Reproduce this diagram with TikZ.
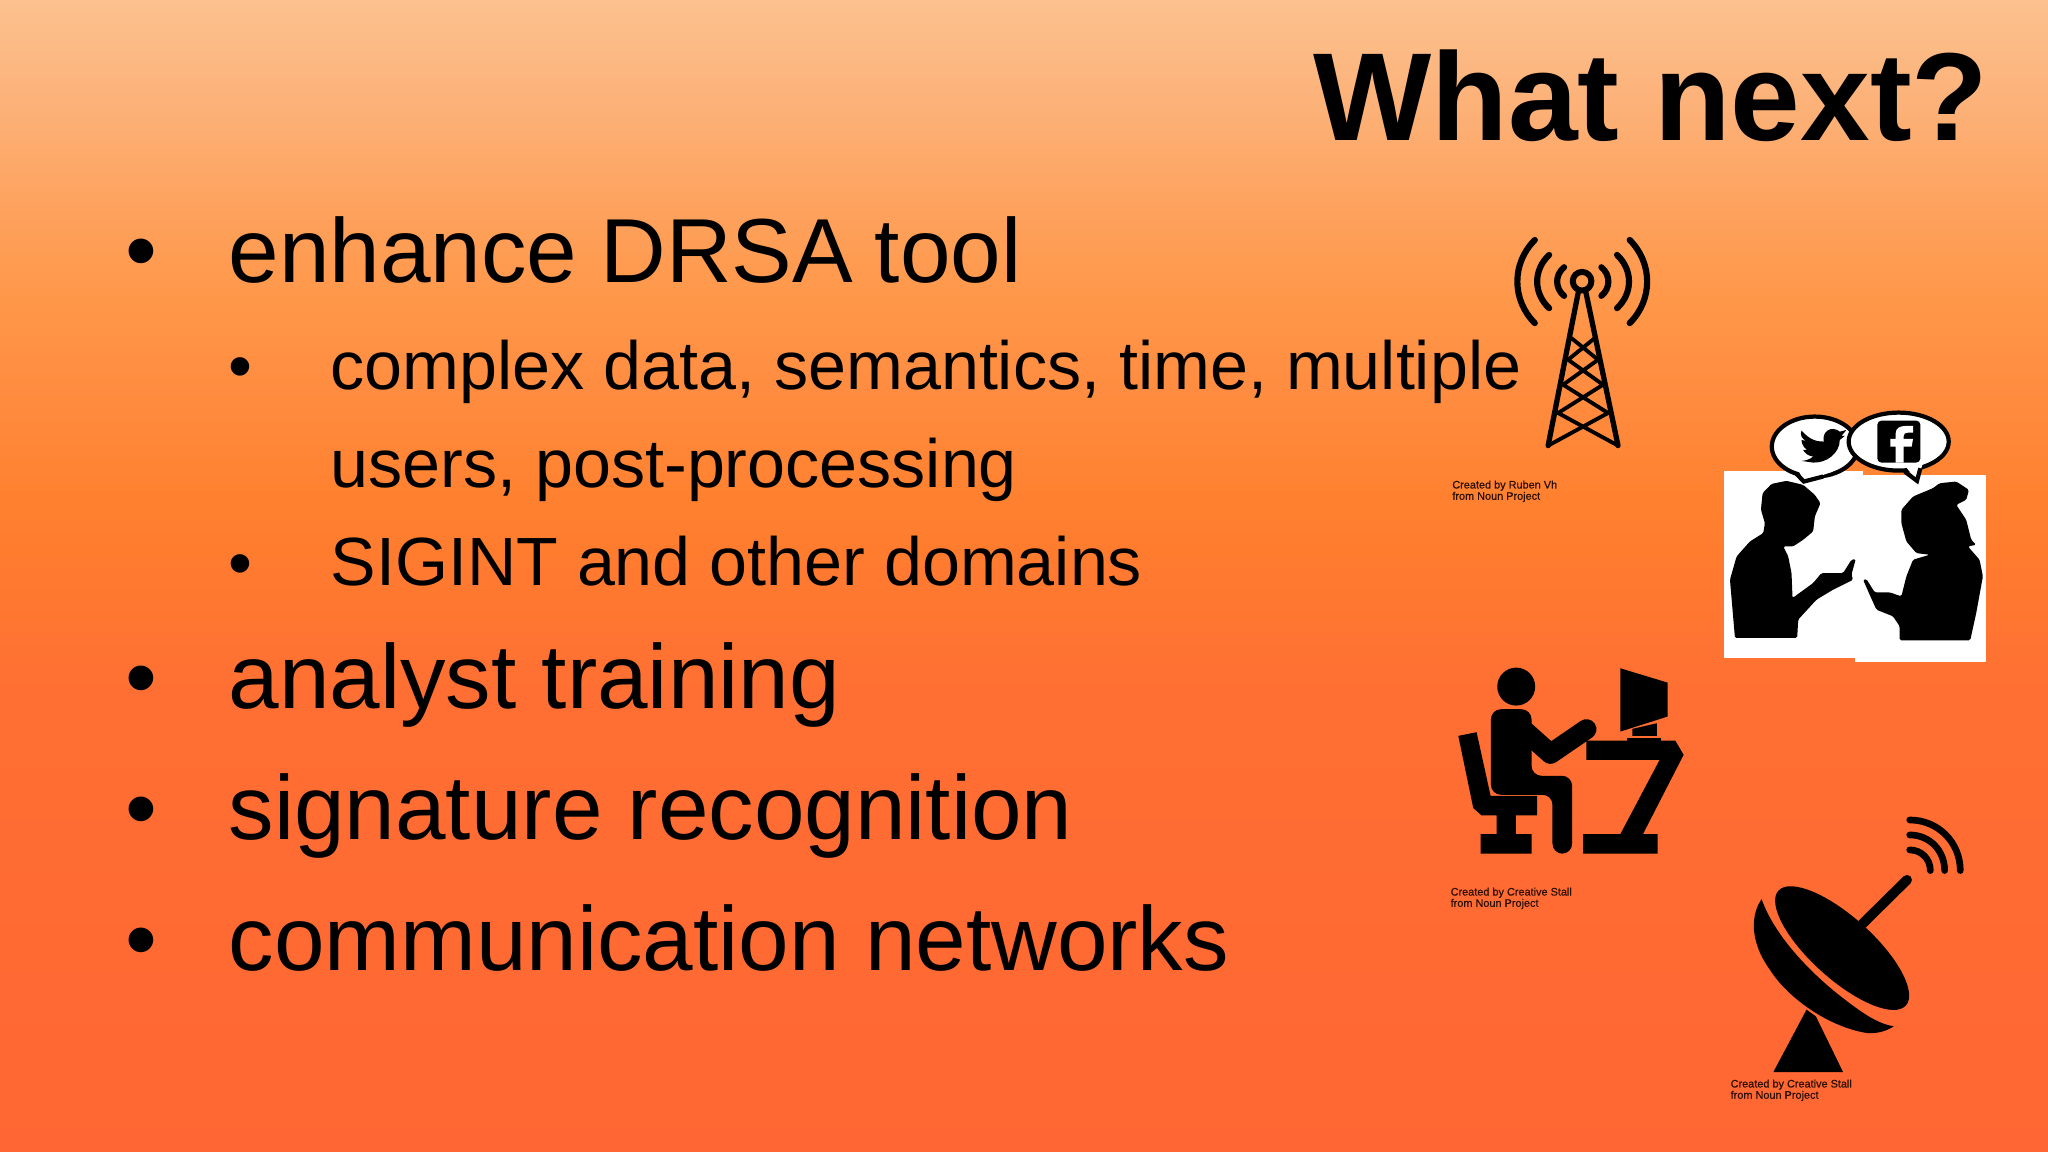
\documentclass[tikz,border=0pt]{standalone}
\usepackage{fontspec}
\setmainfont{Liberation Sans}
\newfontfamily\creditfont[FakeBold=0.5]{Liberation Sans}
\definecolor{bgtop}{RGB}{252,193,143}
\definecolor{bgpale}{RGB}{252,178,121}
\definecolor{bgupper}{RGB}{254,162,94}
\definecolor{bgwarm}{RGB}{255,151,73}
\definecolor{bgsoft}{RGB}{255,140,64}
\definecolor{bgmid}{RGB}{255,128,46}
\definecolor{bglow}{RGB}{255,111,51}
\definecolor{bgend}{RGB}{255,102,51}
\definecolor{creditink}{RGB}{45,15,5}
\pgfdeclareverticalshading{slidebg}{100bp}{color(0bp)=(bgend); color(25bp)=(bgend); color(45bp)=(bglow); color(53bp)=(bgmid); color(58bp)=(bgsoft); color(62bp)=(bgwarm); color(66bp)=(bgupper); color(70.6bp)=(bgpale); color(75bp)=(bgtop); color(100bp)=(bgtop)}
\tikzset{
    titletext/.style={anchor=base west,inner sep=0pt,font=\fontsize{35.6}{40}\selectfont\bfseries},
    mainitem/.style={anchor=base west,inner sep=0pt,font=\fontsize{25.85}{30}\selectfont},
    subitem/.style={anchor=base west,inner sep=0pt,font=\fontsize{19.4}{23}\selectfont},
    credit/.style={anchor=north west,inner sep=0pt,align=left,text=creditink,font=\fontsize{3.1}{3.2}\creditfont},
    icon/.style={x=0.003333cm,y=-0.003333cm},
    bar/.style={line width=1.5pt,line cap=round,line join=round},
    wave/.style={line width=1.75pt,line cap=round}
}
\begin{document}
\begin{tikzpicture}[x=0.01cm,y=-0.01cm]
    \useasboundingbox (0,0) rectangle (2048,1152);
    % Hintergrund
    \path[shading=slidebg,shading angle=0] (0,0) rectangle (2048,1152);

    % Titel
    \node[titletext] (title) at (1313,141) {What next?};

    % Liste
    \node[mainitem] (b1) at (125,282) {•};
    \node[mainitem] (drsa) at (228,283) {enhance\kern-0.6pt\ DRSA\kern-1pt\ tool};
    \node[subitem] (b2) at (228,390) {•};
    \node[subitem] (complex) at (330,390) {complex data, semantics, time, multiple};
    \node[subitem] (users) at (330,488) {users, post-processing};
    \node[subitem] (b3) at (228,587) {•};
    \node[subitem] (sigint) at (330,586) {SIGINT and other domains};
    \node[mainitem] (b4) at (125,708) {•};
    \node[mainitem] (analyst) at (228,708) {analyst training};
    \node[mainitem] (b5) at (125,839) {•};
    \node[mainitem] (signature) at (228,839) {signature recognition};
    \node[mainitem] (b6) at (125,970) {•};
    \node[mainitem] (comm) at (228,970) {communication networks};

    % Funkturm
    \begin{scope}[shift={(1420,210)},icon]
        \draw[bar] (385,708) -- (476,245) (595,708) -- (498,245);
        \draw[bar,line width=1.1pt] (385,708) -- (565,610) -- (430,525) -- (535,450) -- (455,385)
            (595,708) -- (415,610) -- (550,525) -- (445,450) -- (525,385);
        \draw[bar,line width=1.7pt] (487,214) circle [radius=28];
        \draw[wave] (345,90) .. controls (275,160) and (275,270) .. (345,340);
        \draw[wave] (388,135) .. controls (340,180) and (340,250) .. (388,295);
        \draw[wave] (433,172) .. controls (405,195) and (405,235) .. (433,258);
        \draw[wave] (630,90) .. controls (700,160) and (700,270) .. (630,340);
        \draw[wave] (592,135) .. controls (640,180) and (640,250) .. (592,295);
        \draw[wave] (545,172) .. controls (573,195) and (573,235) .. (545,258);
        \node[credit] (rubenvh) at (95,811) {Created by Ruben Vh\\from Noun Project};
    \end{scope}

    % Zwei Personen
    \begin{scope}[shift={(1700,400)},icon]
        \fill[white] (72,213) rectangle (490,775);
        \fill[white] (465,225) rectangle (858,787);
        \draw[black,line width=1.2pt,fill=white] (345,140) ellipse [x radius=0.43cm,y radius=0.3cm];
        \fill[white] (290,200) -- (312,245) -- (400,215) -- cycle;
        \draw[black,line width=1.2pt] (290,222) -- (312,245) -- (370,230);
        \draw[black,line width=1.2pt,fill=white] (597,125) ellipse [x radius=0.5cm,y radius=0.29cm];
        \fill[white] (610,190) -- (652,243) -- (670,190) -- cycle;
        \draw[black,line width=1.2pt] (615,215) -- (652,243) -- (662,205);
        % Twitter
        \fill (305,92) .. controls (330,120) and (350,125) .. (372,125) .. controls (365,95) and (395,75) .. (420,95)
            -- (440,90) -- (425,108) -- (435,108) -- (420,120) .. controls (420,160) and (380,190) .. (340,188)
            -- (305,183) .. controls (320,182) and (330,178) .. (340,170) .. controls (325,168) and (315,160) .. (310,150)
            -- (322,150) .. controls (310,142) and (305,130) .. (305,120) -- (318,123) .. controls (305,115) and (300,105) .. (305,92) -- cycle;
        % Facebook
        \fill[rounded corners=0.04cm] (533,62) rectangle (662,188);
        \fill[white] (588,188) -- (588,140) -- (572,140) -- (572,117) -- (588,117) -- (588,100)
            .. controls (588,85) and (600,78) .. (618,78) -- (640,78) -- (640,98) -- (625,98)
            .. controls (616,98) and (612,102) .. (612,108) -- (612,117) -- (640,117) -- (636,140) -- (612,140) -- (612,188) -- cycle;
        % Mann
        \fill[rounded corners=0.015cm] (105,715) -- (90,540) -- (110,470) -- (150,425) -- (190,400) -- (195,370)
            -- (183,330) -- (188,280) -- (215,252) -- (260,243) -- (310,255) -- (345,285) -- (362,310)
            -- (345,350) -- (340,395) -- (310,420) -- (280,440) -- (250,440) -- (265,470) -- (275,520)
            -- (278,595) -- (340,550) -- (365,520) -- (430,520) -- (455,480) -- (468,478) -- (455,525)
            -- (460,540) -- (400,570) -- (350,600) -- (295,660) -- (292,715) -- cycle;
        % Frau
        \fill[rounded corners=0.015cm] (600,722) -- (600,680) -- (580,650) -- (530,630) -- (512,590) -- (490,540)
            -- (500,538) -- (525,578) -- (570,578) -- (605,590) -- (620,530) -- (640,480) -- (690,465)
            -- (650,460) -- (620,425) -- (605,370) -- (605,330) -- (640,290) -- (700,265) -- (720,250)
            -- (770,245) -- (808,270) -- (800,300) -- (770,315) -- (800,360) -- (815,420) -- (830,435)
            -- (805,440) -- (840,480) -- (850,530) -- (830,640) -- (812,722) -- cycle;
    \end{scope}

    % Person am Computer
    \begin{scope}[shift={(1430,650)},icon]
        \fill (259,110) circle [radius=57];
        \fill[rounded corners=0.1cm] (183,178) -- (305,178) -- (305,378) -- (427,378) -- (427,612) -- (368,612)
            -- (368,435) -- (183,435) -- cycle;
        \draw[line width=5.7pt,line cap=round,line join=round] (270,230) -- (362,312) -- (470,238);
        \fill (85,258) -- (140,247) -- (182,438) -- (322,438) -- (322,497) -- (258,497) -- (258,553) -- (305,553)
            -- (305,612) -- (152,612) -- (152,553) -- (200,553) -- (200,497) -- (155,497) -- (130,475) -- cycle;
        \fill (572,55) -- (714,98) -- (714,200) -- (572,245) -- cycle;
        \fill (608,237) -- (682,220) -- (682,258) -- (608,258) -- cycle;
        \fill (593,264) rectangle (695,272);
        \fill (470,272) -- (737,272) -- (762,315) -- (640,553) -- (684,553) -- (684,612) -- (460,612) -- (460,553)
            -- (572,553) -- (690,330) -- (470,330) -- cycle;
        \node[credit] (stalla) at (60,712) {Created by Creative Stall\\from Noun Project};
    \end{scope}

    % Satellitenschuessel
    \begin{scope}[shift={(1710,800)},icon]
        \fill[rotate around={-42:(397,445)}] (397,445) ellipse [x radius=0.857cm,y radius=0.31cm];
        \fill (155,298) .. controls (125,340) and (115,420) .. (180,510) .. controls (230,590) and (350,680) .. (470,700)
            .. controls (500,703) and (530,695) .. (552,680) .. controls (500,672) and (450,635) .. (380,580)
            .. controls (300,515) and (195,410) .. (155,298) -- cycle;
        \fill (190,818) -- (400,818) -- (318,650) -- (290,630) -- cycle;
        \draw[line width=2.8pt,line cap=round] (450,380) -- (592,240);
        \draw[line width=1.9pt,line cap=round] (600,60) .. controls (685,60) and (752,127) .. (752,212);
        \draw[line width=1.9pt,line cap=round] (600,105) .. controls (660,105) and (705,152) .. (705,212);
        \draw[line width=1.9pt,line cap=round] (600,150) .. controls (635,150) and (662,177) .. (662,212);
        \node[credit] (stallb) at (60,838) {Created by Creative Stall\\from Noun Project};
    \end{scope}
\end{tikzpicture}
\end{document}
